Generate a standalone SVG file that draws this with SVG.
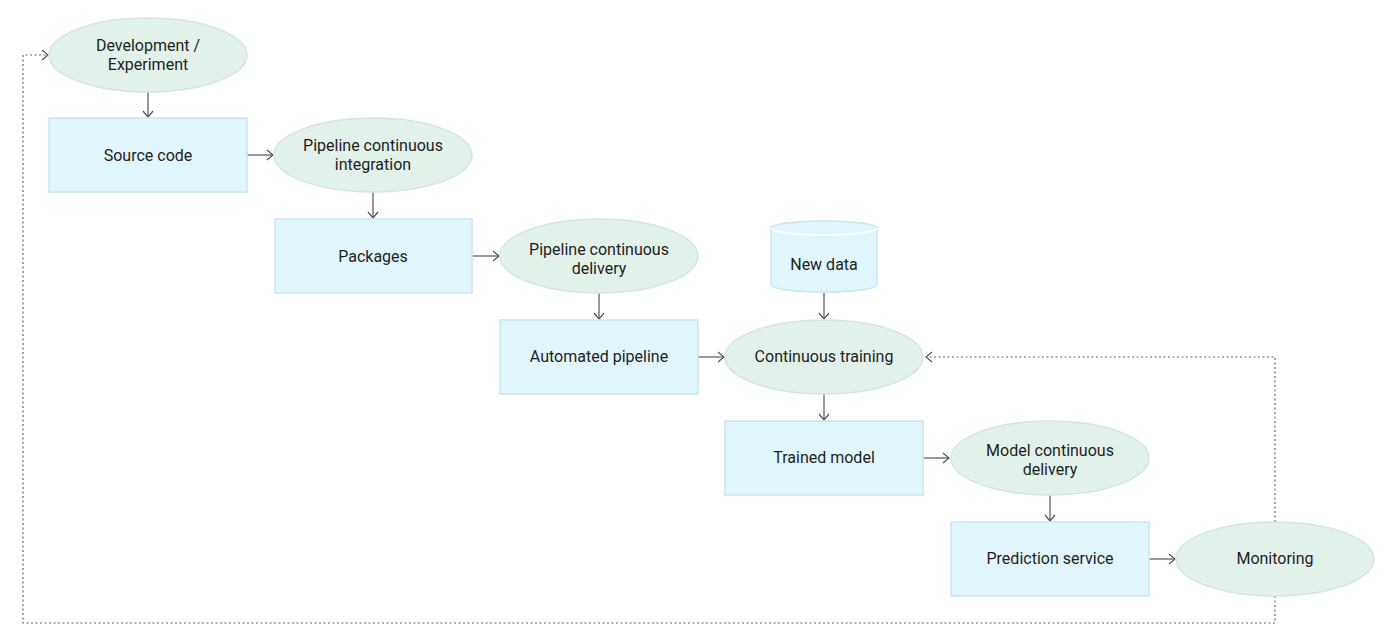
<svg xmlns="http://www.w3.org/2000/svg" width="1400" height="638" viewBox="0 0 1400 638">
<style>
.ell{fill:#e3f1eb;stroke:#d3e7dd;stroke-width:1.5}
.box{fill:#e1f5fd;stroke:#cde5ee;stroke-width:1.5}
.t{font-family:Roboto,"Liberation Sans",sans-serif;font-size:16px;fill:#1e1e1e;text-anchor:middle}
.c{fill:none;stroke:#555;stroke-width:1.2;marker-end:url(#ah)}
.d{fill:none;stroke:#666;stroke-width:1.2;stroke-dasharray:2 2.5}
</style>
<defs>
<marker id="ah" markerWidth="12" markerHeight="12" refX="9" refY="6" orient="auto" markerUnits="userSpaceOnUse">
<path d="M3,1 L9,6 L3,11" fill="none" stroke="#555" stroke-width="1.2"/>
</marker>
</defs>
<rect width="1400" height="638" fill="#ffffff"/>
<g id="connectors">
<path class="c" d="M148,92 V117"/>
<path class="c" d="M247,155 H273"/>
<path class="c" d="M373,192 V218"/>
<path class="c" d="M472,256 H499"/>
<path class="c" d="M599,293 V319"/>
<path class="c" d="M698,357 H724"/>
<path class="c" d="M824,293 V319"/>
<path class="c" d="M824,394 V420"/>
<path class="c" d="M923,458 H949"/>
<path class="c" d="M1050,495 V521"/>
<path class="c" d="M1149,559 H1175"/>
<path class="d" d="M1275,522 V357 H926" marker-end="url(#ah)"/>
<path class="d" d="M1275,596 V623 H23 V55 H48" marker-end="url(#ah)"/>
</g>
<g id="dev">
<ellipse class="ell" cx="148" cy="55" rx="99" ry="37"/>
<text class="t" x="148" y="51">Development /</text>
<text class="t" x="148" y="70">Experiment</text>
</g>
<g id="source">
<rect class="box" x="49" y="118" width="198" height="74"/>
<text class="t" x="148" y="161">Source code</text>
</g>
<g id="pci">
<ellipse class="ell" cx="373" cy="155" rx="99" ry="37"/>
<text class="t" x="373" y="151">Pipeline continuous</text>
<text class="t" x="373" y="170">integration</text>
</g>
<g id="packages">
<rect class="box" x="275" y="219" width="197" height="74"/>
<text class="t" x="373" y="262">Packages</text>
</g>
<g id="pcd">
<ellipse class="ell" cx="599" cy="256" rx="99" ry="37"/>
<text class="t" x="599" y="255">Pipeline continuous</text>
<text class="t" x="599" y="274">delivery</text>
</g>
<g id="autopipe">
<rect class="box" x="500" y="320" width="198" height="74"/>
<text class="t" x="599" y="362">Automated pipeline</text>
</g>
<g id="newdata">
<path class="box" d="M771,228 V285 A53,7 0 0 0 877,285 V228 A53,7 0 0 0 771,228 Z"/>
<path d="M771,228 A53,7 0 0 0 877,228" fill="none" stroke="#ffffff" stroke-width="1.5"/>
<text class="t" x="824" y="270">New data</text>
</g>
<g id="ct">
<ellipse class="ell" cx="824" cy="357" rx="99" ry="37"/>
<text class="t" x="824" y="362">Continuous training</text>
</g>
<g id="trained">
<rect class="box" x="725" y="421" width="198" height="74"/>
<text class="t" x="824" y="463">Trained model</text>
</g>
<g id="mcd">
<ellipse class="ell" cx="1050" cy="458" rx="99" ry="37"/>
<text class="t" x="1050" y="456">Model continuous</text>
<text class="t" x="1050" y="475">delivery</text>
</g>
<g id="prediction">
<rect class="box" x="951" y="522" width="198" height="74"/>
<text class="t" x="1050" y="564">Prediction service</text>
</g>
<g id="monitoring">
<ellipse class="ell" cx="1275" cy="559" rx="99" ry="37"/>
<text class="t" x="1275" y="564">Monitoring</text>
</g>
</svg>
